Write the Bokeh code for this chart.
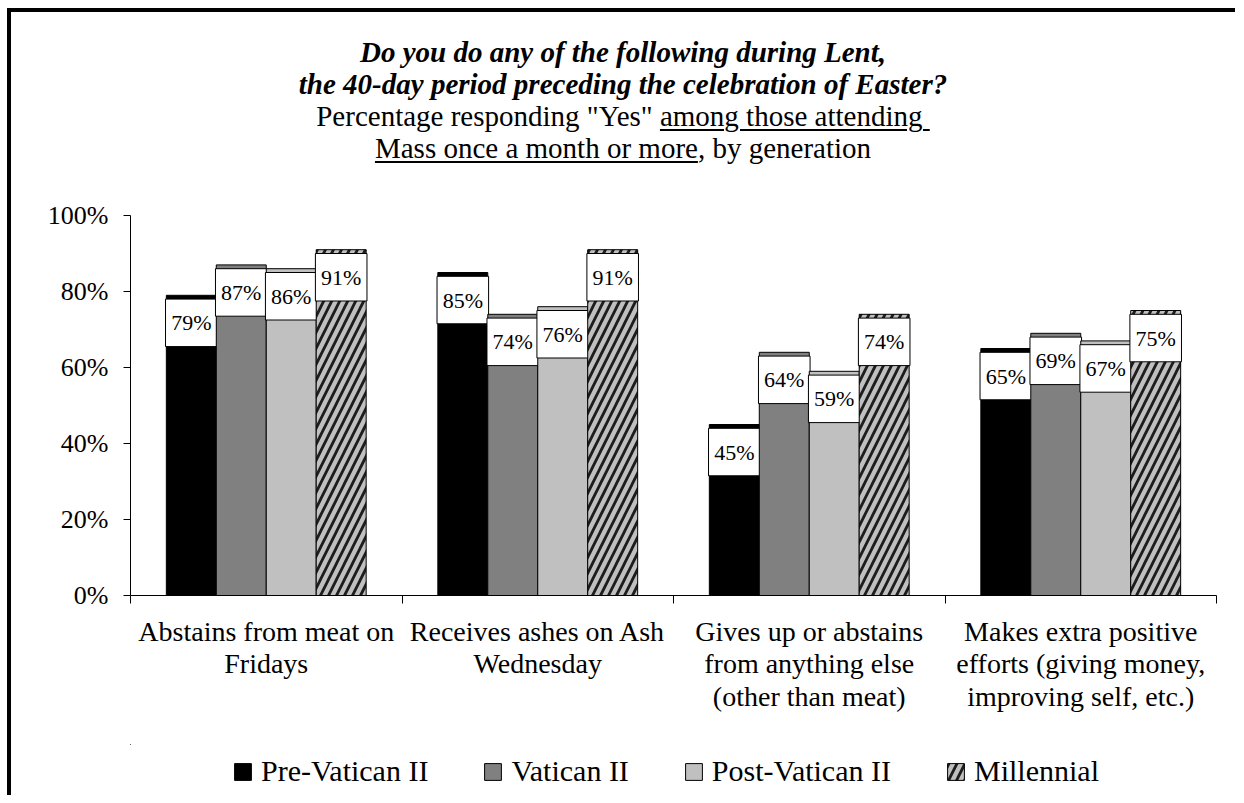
from bokeh.plotting import figure
from bokeh.models import (ColumnDataSource, FixedTicker, PrintfTickFormatter,
                          Legend, LegendItem, Range1d, Div, BoxAnnotation)
from bokeh.layouts import column
from bokeh.core.properties import value
from bokeh.embed import file_html
from bokeh.resources import INLINE

categories = [
    "Abstains from meat on\nFridays",
    "Receives ashes on Ash\nWednesday",
    "Gives up or abstains\nfrom anything else\n(other than meat)",
    "Makes extra positive\nefforts (giving money,\nimproving self, etc.)",
]
series = ["Pre-Vatican II", "Vatican II", "Post-Vatican II", "Millennial"]
pre_vatican = [79, 85, 45, 65]
vatican = [87, 74, 64, 69]
post_vatican = [86, 76, 59, 67]
millennial = [91, 91, 74, 75]
y_ticks = [0, 20, 40, 60, 80, 100]

title_line1 = "Do you do any of the following during Lent,"
title_line2 = "the 40-day period preceding the celebration of Easter?"
subtitle_a = "Percentage responding \"Yes\" "
subtitle_u1 = "among those attending"
subtitle_u2 = "Mass once a month or more"
subtitle_b = ", by generation"

FONT = "Liberation Serif"
fills = ["#000000", "#808080", "#c0c0c0", "#c0c0c0"]
hatches = [None, None, None, "/"]
values_all = [pre_vatican, vatican, post_vatican, millennial]

U = "text-decoration:underline;text-decoration-thickness:2px;text-underline-offset:3px;"
title_html = (
    "<div style=\"font-family:'Liberation Serif',serif;font-size:29px;line-height:32px;"
    "text-align:center;color:black;padding-top:24px;width:1224px;white-space:nowrap;\">"
    f"<b><i>{title_line1}</i></b><br>"
    f"<b><i>{title_line2}</i></b><br>"
    f"{subtitle_a}<span style=\"{U}\">{subtitle_u1}&nbsp;</span><br>"
    f"<span style=\"{U}\">{subtitle_u2}</span>{subtitle_b}</div>"
)
div = Div(text=title_html, width=1224, height=152, margin=0)

p = figure(width=1224, height=580, x_range=Range1d(0, 4), y_range=Range1d(0, 100),
           output_backend="svg", toolbar_location=None, margin=0,
           min_border_left=119, min_border_right=19, min_border_top=51, min_border_bottom=149)
p.outline_line_color = None
p.xgrid.visible = False
p.ygrid.visible = False
p.background_fill_color = "white"
p.border_fill_color = "white"

# y axis
p.yaxis.ticker = FixedTicker(ticks=y_ticks, minor_ticks=[])
p.yaxis.formatter = PrintfTickFormatter(format="%d%%")
p.yaxis.major_tick_out = 7
p.yaxis.major_tick_in = 0
p.yaxis.minor_tick_out = 0
p.yaxis.major_label_standoff = 15
p.yaxis.major_label_text_font = FONT
p.yaxis.major_label_text_font_size = "26px"
p.yaxis.major_label_text_color = "black"
p.yaxis.axis_line_color = "black"
p.yaxis.major_tick_line_color = "black"

# x axis
p.xaxis.ticker = FixedTicker(ticks=[i + 0.5 for i in range(len(categories))],
                             minor_ticks=list(range(len(categories) + 1)))
p.xaxis.major_label_overrides = {i + 0.5: c for i, c in enumerate(categories)}
p.xaxis.major_tick_out = 0
p.xaxis.major_tick_in = 0
p.xaxis.minor_tick_out = 8
p.xaxis.minor_tick_in = 0
p.xaxis.major_label_standoff = 12
p.xaxis.major_label_text_font = FONT
p.xaxis.major_label_text_font_size = "28px"
p.xaxis.major_label_text_line_height = 1.05
p.xaxis.major_label_text_color = "black"
p.xaxis.axis_line_color = "black"
p.xaxis.minor_tick_line_color = "black"

bw = 0.184
n = len(series)
sources = []
styles_kw = []
for i, (name, vals) in enumerate(zip(series, values_all)):
    xs = [j + 0.5 + (i - (n - 1) / 2) * bw for j in range(len(categories))]
    src = ColumnDataSource(dict(x=xs, top=vals,
                                ly=[v - 1 - 6.25 for v in vals],
                                lab=[f"{v}%" for v in vals]))
    kw = dict(fill_color=fills[i], line_color="black", line_width=1)
    if hatches[i]:
        kw.update(hatch_pattern=hatches[i], hatch_color="#1e1e1e", hatch_scale=16, hatch_weight=2.8)
    sources.append(src)
    styles_kw.append(kw)
    p.vbar(x="x", top="top", width=bw, source=src, **kw)
    p.rect(x="x", y="ly", width=0.19, height=12.5, source=src, fill_color="white",
           line_color="black", line_width=1)
    p.text(x="x", y="ly", text="lab", source=src, text_font=value(FONT),
           text_font_size="22px", text_align="center", text_baseline="middle",
           text_color="black")

# legend strip: keys use the same series styles; the strip's ranges lie away from the bars,
# and a white cover sits between the (hidden) glyphs and the legend
lg = figure(width=1224, height=51, x_range=Range1d(100, 104), y_range=Range1d(-300, -200),
            output_backend="svg", toolbar_location=None, margin=0,
            x_axis_location=None, y_axis_location=None,
            min_border_left=119, min_border_right=19, min_border_top=0, min_border_bottom=0)
lg.outline_line_color = None
lg.xgrid.visible = False
lg.ygrid.visible = False
lg.border_fill_color = "white"
lg.background_fill_color = "white"
items = []
for name, src, kw in zip(series, sources, styles_kw):
    r = lg.vbar(x="x", top="top", width=bw, source=src, **kw)
    items.append(LegendItem(label=name, renderers=[r]))
lg.add_layout(BoxAnnotation(fill_color="white", fill_alpha=1, line_color="white",
                            line_alpha=1, line_width=3, level="guide"))
legend = Legend(items=items, orientation="horizontal", location=(102, 7),
                glyph_width=21, glyph_height=21, label_text_font=FONT,
                label_text_font_size="30px", label_text_color="black",
                spacing=54, label_standoff=8,
                padding=0, margin=0, border_line_color=None, background_fill_alpha=0)
lg.add_layout(legend)

layout = column(div, p, lg, spacing=0,
                styles={"margin-left": "7px", "margin-top": "8px",
                        "border-left": "4px solid black", "border-top": "4px solid black"})

open("out.html", "w").write(file_html(layout, INLINE))
